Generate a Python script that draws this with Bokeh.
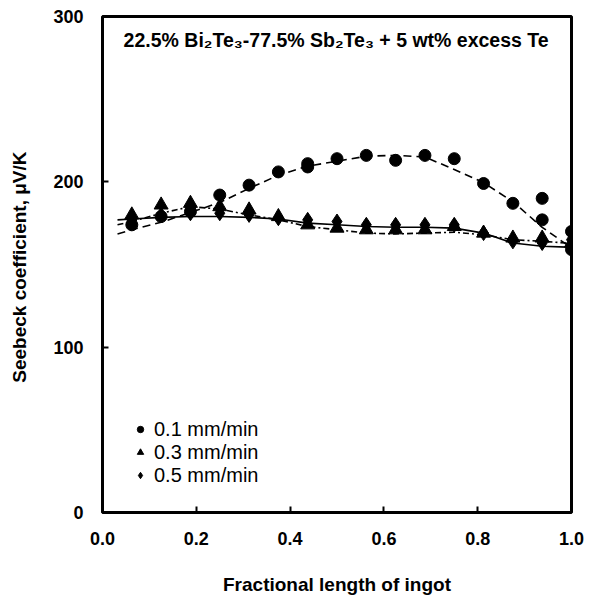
from bokeh.plotting import figure
from bokeh.models import FixedTicker, Legend, LegendItem, Label, NumeralTickFormatter
from bokeh.embed import file_html
from bokeh.resources import INLINE

# ---- data ----
pos = [k / 16 for k in range(1, 17)]

circ_x = pos + [0.4375, 0.9375, 1.0]
circ_y = [174, 179, 182, 192, 198, 206, 211, 214, 216, 213, 216, 214, 199, 187, 190, 170] + [209, 177, 159]

tri_x = pos
tri_y = [180, 186, 187, 185, 183, 179, 174, 172, 171, 171, 171, 173, 169, 166, 166, 163]

dia_x = pos
dia_y = [177, 180, 181, 181, 180, 178, 177, 176, 174, 174, 174, 174, 169, 164, 163, 165]

fit_x = [0.032, 0.0625, 0.125, 0.1875, 0.25, 0.3125, 0.375, 0.4375, 0.5, 0.5625,
         0.625, 0.6875, 0.75, 0.8125, 0.875, 0.9375, 0.99]
fit01_y = [168.5, 171, 175.5, 181.5, 187.5, 196, 204, 209.5, 212.5, 215.5,
           216, 215, 207.5, 199.5, 188, 172.5, 162]
fit03_y = [174, 176, 181, 185, 183.5, 180, 177, 173, 171, 169,
           168.5, 169, 169.5, 168, 165, 164, 163]
fit05_y = [177, 177.5, 178.5, 179, 179, 178.5, 177.5, 175, 174, 173,
           172.5, 172.5, 172, 169, 163, 161, 160.5]

x_ticks = [0.0, 0.2, 0.4, 0.6, 0.8, 1.0]
y_ticks = [0, 100, 200, 300]
labels = ["0.1 mm/min", "0.3 mm/min", "0.5 mm/min"]
title_text = "22.5% Bi\u2082Te\u2083-77.5% Sb\u2082Te\u2083 + 5 wt% excess Te"

FONT = "Liberation Sans"

p = figure(width=584, height=597, x_range=(0, 1), y_range=(0, 300),
           output_backend="svg", toolbar_location=None,
           min_border_left=102, min_border_top=16, min_border_right=13, min_border_bottom=82)
p.background_fill_color = "white"
p.border_fill_color = "white"
p.xgrid.visible = False
p.ygrid.visible = False
p.outline_line_color = "black"
p.outline_line_width = 3

p.xaxis.ticker = FixedTicker(ticks=x_ticks)
p.yaxis.ticker = FixedTicker(ticks=y_ticks)
p.xaxis.formatter = NumeralTickFormatter(format="0.0")
p.yaxis.formatter = NumeralTickFormatter(format="0")
for ax in (p.xaxis, p.yaxis):
    ax.axis_line_color = None
    ax.major_tick_in = 6
    ax.major_tick_out = 0
    ax.major_tick_line_width = 2
    ax.major_tick_line_color = "black"
    ax.minor_tick_line_color = None
    ax.major_label_text_font = FONT
    ax.major_label_text_font_style = "bold"
    ax.major_label_text_font_size = "18px"
    ax.major_label_text_color = "black"
    ax.major_label_standoff = 19
    ax.axis_label_text_font = FONT
    ax.axis_label_text_font_style = "bold"
    ax.axis_label_text_font_size = "19px"
    ax.axis_label_text_color = "black"
p.xaxis.axis_label_standoff = 26
p.yaxis.axis_label_standoff = 20
p.xaxis.axis_label = "Fractional length of ingot"
p.yaxis.axis_label = "Seebeck coefficient,  \u03bcV/K"

p.line(fit_x, fit01_y, line_color="black", line_width=1.6, line_dash="8 5")
p.line(fit_x, fit03_y, line_color="black", line_width=1.6, line_dash="6 3 2 3")
p.line(fit_x, fit05_y, line_color="black", line_width=1.6)

r1 = p.scatter(circ_x, circ_y, marker="circle", size=12, color="black")
r2 = p.scatter(tri_x, tri_y, marker="triangle", size=14, color="black")
r3 = p.scatter(dia_x, dia_y, marker="diamond", size=15, color="black")

# one legend per row so that the rows can sit as tightly as in the reference
for lab, rend, yoff in zip(labels, [r1, r2, r3], [71.5, 48.5, 25.5]):
    lg = Legend(items=[LegendItem(label=lab, renderers=[rend])],
                location=(30, yoff), padding=0, margin=0, spacing=0,
                glyph_width=16, glyph_height=16, label_standoff=6,
                label_text_font=FONT, label_text_font_size="20px",
                label_text_color="black",
                border_line_color=None, background_fill_alpha=0)
    p.add_layout(lg, "center")

p.add_layout(Label(x=0.045, y=286, text=title_text, text_font=FONT,
                   text_font_style="bold", text_font_size="19.5px",
                   text_baseline="middle", text_color="black"))

open("out.html", "w").write(file_html(p, INLINE))
